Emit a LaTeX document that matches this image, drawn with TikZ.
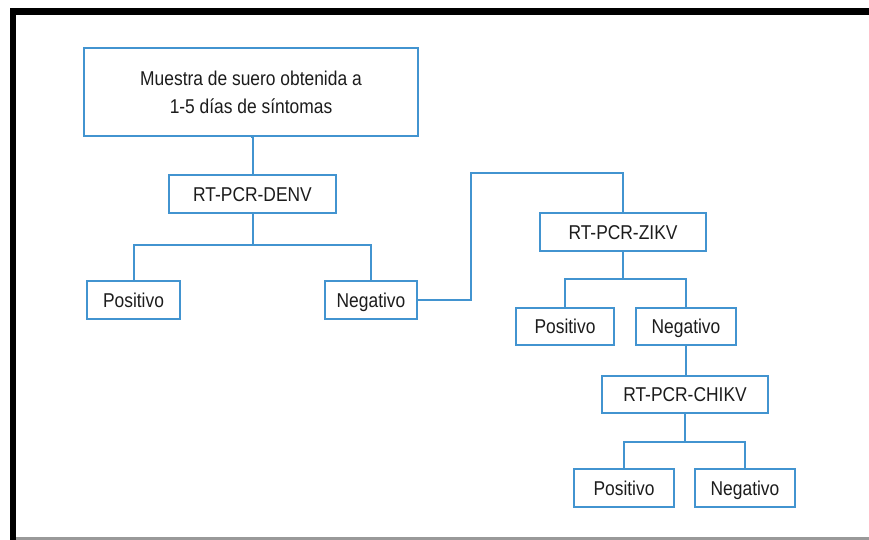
\documentclass[tikz,border=0pt]{standalone}
\usepackage{fontspec}
\setmainfont{Liberation Sans}[FakeStretch=0.87]
\definecolor{flowblue}{RGB}{66,148,208}
\definecolor{inkgray}{RGB}{28,28,28}
\tikzset{
  box/.style={draw=flowblue, line width=2pt, fill=white, inner sep=0pt,
    text=inkgray, font=\fontsize{20}{28}\selectfont, align=center,
    text height=14.3pt, text depth=0pt},
  bigbox/.style={draw=flowblue, line width=2pt, fill=white, inner sep=0pt,
    text=inkgray, font=\fontsize{20}{28}\selectfont, align=center},
  link/.style={draw=flowblue, line width=2pt}
}
\begin{document}
\begin{tikzpicture}[x=1pt,y=-1pt]
  % page and frame
  \fill[white] (0,0) rectangle (869,540);
  \useasboundingbox (0,0) rectangle (869,540);
  \fill[black] (10,8) rectangle (869,15);
  \fill[black] (10,8) rectangle (16,540);
  \fill[gray!80] (16,537) rectangle (869,540);

  % boxes
  \node[bigbox, minimum width=334pt, minimum height=88pt] (sample) at (251,92)
    {Muestra de suero obtenida a\\1-5 días de síntomas};
  \node[box, minimum width=167pt, minimum height=38pt] (denv) at (252.5,194) {RT-PCR-DENV};
  \node[box, minimum width=93pt, minimum height=38pt] (pos1) at (133.5,300) {Positivo};
  \node[box, minimum width=92pt, minimum height=38pt] (neg1) at (371,300) {Negativo};
  \node[box, minimum width=166pt, minimum height=38pt] (zikv) at (623,232) {RT-PCR-ZIKV};
  \node[box, minimum width=98pt, minimum height=37pt] (pos2) at (565,326.5) {Positivo};
  \node[box, minimum width=100pt, minimum height=37pt] (neg2) at (686,326.5) {Negativo};
  \node[box, minimum width=166pt, minimum height=37pt] (chikv) at (685,394.5) {RT-PCR-CHIKV};
  \node[box, minimum width=100pt, minimum height=38pt] (pos3) at (624,488) {Positivo};
  \node[box, minimum width=100pt, minimum height=38pt] (neg3) at (745,488) {Negativo};

  % connectors
  \draw[link] (sample.south) -- (denv.south |- sample.south) -- (denv.north);
  \coordinate (j1) at (252.5,245);
  \draw[link] (denv.south) -- (j1) -| (pos1.north);
  \draw[link] (j1) -| (neg1.north);
  \coordinate (bend) at (471,173);
  \draw[link] (neg1.east) -| (bend) -| (zikv.north);
  \coordinate (j2) at (623,279);
  \draw[link] (zikv.south) -- (j2) -| (pos2.north);
  \draw[link] (j2) -| (neg2.north);
  \draw[link] (neg2.south) -- (neg2.south |- chikv.north);
  \coordinate (j3) at (685,442);
  \draw[link] (chikv.south) -- (j3) -| (pos3.north);
  \draw[link] (j3) -| (neg3.north);
\end{tikzpicture}
\end{document}
